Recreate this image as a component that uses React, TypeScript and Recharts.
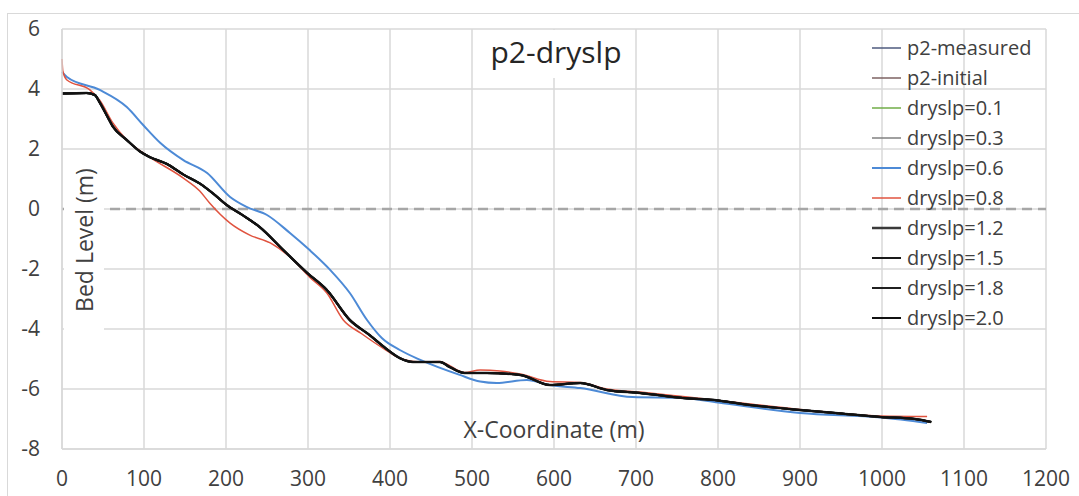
import { LineChart, Line, XAxis, YAxis, CartesianGrid } from "recharts";

// bed profiles: [x (m), bed level (m)]
const darkProfile = [
    [0, 3.85], [30, 3.87], [40, 3.8], [46, 3.55], [55, 3.1], [62, 2.75], [79, 2.3],
    [95, 1.92], [107, 1.73], [128, 1.5], [148, 1.15], [168, 0.85], [185, 0.5],
    [201, 0.13], [220, -0.2], [241, -0.6], [270, -1.37], [299, -2.13], [323, -2.7],
    [351, -3.7], [375, -4.2], [395, -4.65], [412, -4.97], [428, -5.1], [461, -5.1],
    [473, -5.27], [491, -5.47], [518, -5.47], [559, -5.53], [595, -5.87], [632, -5.8],
    [664, -6.03], [705, -6.13], [757, -6.3], [800, -6.38], [839, -6.53], [900, -6.7],
    [950, -6.82], [998, -6.93], [1040, -7.0], [1060, -7.1],
];

const blueProfile = [
    [0, 4.57], [6, 4.4], [46, 3.97], [79, 3.4], [99, 2.8], [120, 2.2], [148, 1.63],
    [177, 1.2], [205, 0.4], [225, 0.07], [250, -0.2], [278, -0.8], [302, -1.37],
    [327, -2.03], [351, -2.8], [372, -3.7], [390, -4.3], [412, -4.7], [437, -5.03],
    [485, -5.53], [510, -5.75], [530, -5.8], [567, -5.7], [595, -5.87], [632, -5.97],
    [696, -6.27], [757, -6.3], [800, -6.45], [900, -6.8], [1000, -6.95], [1055, -7.13],
];

const redProfile = [
    [0, 5.0], [1, 4.6], [6, 4.3], [34, 3.97], [46, 3.63], [62, 2.87], [79, 2.3],
    [107, 1.73], [148, 1.03], [168, 0.6], [180, 0.2], [205, -0.47], [229, -0.87],
    [254, -1.13], [278, -1.6], [302, -2.27], [323, -2.8], [343, -3.7], [365, -4.15],
    [395, -4.7], [412, -4.97], [440, -5.1], [460, -5.08], [491, -5.45], [510, -5.37],
    [534, -5.4], [559, -5.5], [595, -5.75], [632, -5.78], [664, -6.0], [705, -6.1],
    [757, -6.25], [839, -6.5], [900, -6.68], [998, -6.9], [1055, -6.92],
];

const zeroLine = [[0, 0], [1200, 0]];

const seriesNames = [
    "p2-measured", "p2-initial", "dryslp=0.1", "dryslp=0.3", "dryslp=0.6",
    "dryslp=0.8", "dryslp=1.2", "dryslp=1.5", "dryslp=1.8", "dryslp=2.0",
];
const seriesColors = [
    "#4e5a7e", "#7c6262", "#70ad47", "#808080", "#4d8ad6",
    "#e0533f", "#3a3a3a", "#1a1a1a", "#202020", "#111111",
];
const seriesWidths = [1.5, 1.5, 1.5, 1.5, 2, 1.5, 2.5, 2, 2, 2];
const seriesProfiles = [
    darkProfile, darkProfile, darkProfile, darkProfile, blueProfile,
    redProfile, darkProfile, darkProfile, darkProfile, darkProfile,
];

const xTicks = [0, 100, 200, 300, 400, 500, 600, 700, 800, 900, 1000, 1100, 1200];
const yTicks = [-8, -6, -4, -2, 0, 2, 4, 6];

const toPoints = (rows: number[][]) => rows.map(([x, y]) => ({ x, y }));

const font = "'Open Sans', sans-serif";
const textColor = "#404040";
const gridColor = "#d9d9d9";

function LegendBox() {
    return (
        <div style={{ position: "absolute", left: 872, top: 33, fontFamily: font, fontSize: 20, color: textColor }}>
            {seriesNames.map((name, i) => (
                <div key={name} style={{ height: 30, display: "flex", alignItems: "center" }}>
                    <svg width={30} height={10} style={{ marginRight: 5 }}>
                        <line x1={0} y1={5} x2={29} y2={5} stroke={seriesColors[i]} strokeWidth={seriesWidths[i]} />
                    </svg>
                    <span style={{ lineHeight: "30px" }}>{name}</span>
                </div>
            ))}
        </div>
    );
}

export default function App() {
    return (
        <div style={{ position: "absolute", left: 0, top: 0, width: 1079, height: 496, overflow: "hidden", background: "#fff" }}>
            <div style={{ position: "absolute", left: 7, top: 13, width: 1200, height: 600, border: `1px solid ${gridColor}` }} />
            <LineChart
                width={1079}
                height={496}
                margin={{ top: 29, right: 33, left: 22, bottom: 7 }}
                style={{ position: "absolute", left: 0, top: 0 }}
            >
                <CartesianGrid stroke={gridColor} strokeWidth={1.5} />
                <XAxis
                    dataKey="x"
                    type="number"
                    domain={[0, 1200]}
                    ticks={xTicks}
                    height={40}
                    axisLine={{ stroke: gridColor, strokeWidth: 1.5 }}
                    tickLine={false}
                    tickSize={0}
                    tickMargin={22}
                    tick={{ fill: textColor, fontSize: 21, fontFamily: font }}
                />
                <YAxis
                    type="number"
                    domain={[-8, 6]}
                    ticks={yTicks}
                    width={40}
                    axisLine={{ stroke: gridColor, strokeWidth: 1.5 }}
                    tickLine={false}
                    tickSize={0}
                    tickMargin={22}
                    tick={{ fill: textColor, fontSize: 21, fontFamily: font }}
                />
                <Line
                    data={toPoints(zeroLine)}
                    dataKey="y"
                    stroke="#a6a6a6"
                    strokeWidth={2.5}
                    strokeDasharray="10 6"
                    dot={false}
                    legendType="none"
                    isAnimationActive={false}
                />
                {seriesNames.map((name, i) => (
                    <Line
                        key={name}
                        name={name}
                        data={toPoints(seriesProfiles[i])}
                        dataKey="y"
                        type="monotone"
                        stroke={seriesColors[i]}
                        strokeWidth={seriesWidths[i]}
                        dot={false}
                        isAnimationActive={false}
                    />
                ))}
            </LineChart>
            <LegendBox />
            <div
                style={{
                    position: "absolute", left: 478, top: 30, width: 156, height: 48,
                    background: "#fff", fontFamily: font, fontSize: 30, color: "#262626",
                    textAlign: "center", lineHeight: "44px",
                }}
            >
                p2-dryslp
            </div>
            <div
                style={{
                    position: "absolute", left: 64, top: 150, width: 40, height: 180,
                    background: "#fff", display: "flex", alignItems: "center", justifyContent: "center",
                }}
            >
                <div style={{ transform: "rotate(-90deg)", whiteSpace: "nowrap", fontFamily: font, fontSize: 23, color: textColor }}>
                    Bed Level (m)
                </div>
            </div>
            <div
                style={{
                    position: "absolute", left: 454, top: 414, width: 200, textAlign: "center",
                    fontFamily: font, fontSize: 23, color: textColor, lineHeight: "30px", whiteSpace: "nowrap",
                }}
            >
                X-Coordinate (m)
            </div>
        </div>
    );
}
